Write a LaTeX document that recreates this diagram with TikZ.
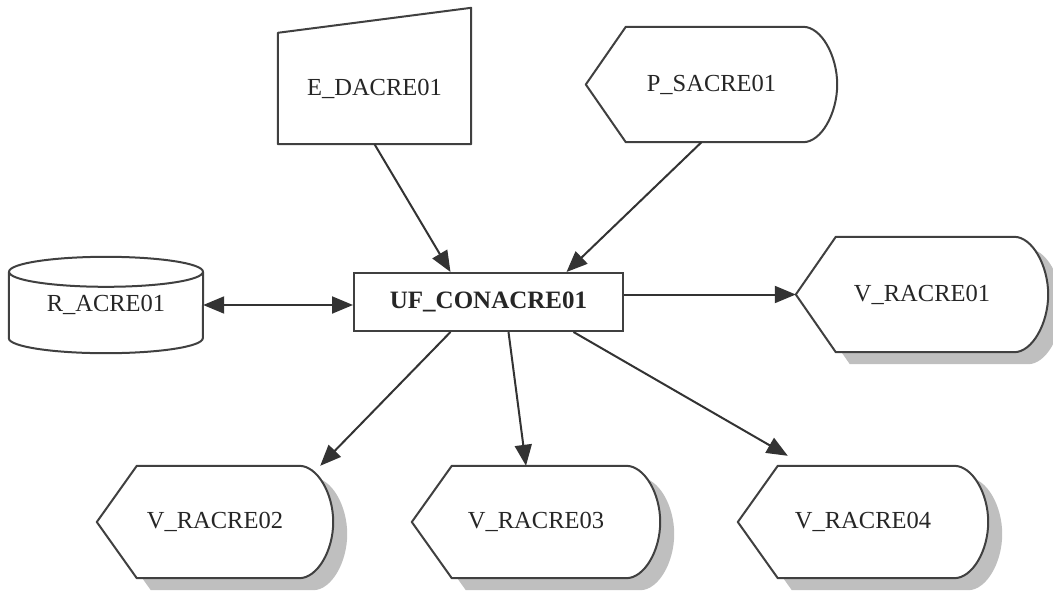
\documentclass[tikz,border=0pt]{standalone}
\usepackage{fontspec}
\setmainfont{Liberation Serif}
\usetikzlibrary{arrows.meta,backgrounds,shadows}
\tikzset{
  lbl/.style={inner sep=0pt, font=\fontsize{24.5}{28}\selectfont, text=black!85},
  conn/.style={line width=2pt, draw=black!80},
  tip/.style={-{Triangle[length=21pt,width=17pt]}},
  outl/.style={line width=2pt, draw=black!75, fill=white, line join=round},
  shad/.style={drop shadow={shadow xshift=14pt,shadow yshift=-12pt,fill=black!25,opacity=1}},
  disp/.style={insert path={(#1.west) -- ([xshift=40pt]#1.north west) -- ([xshift=-34pt]#1.north east)
    .. controls ([xshift=-16pt]#1.north east) and ([yshift=29pt]#1.east) .. (#1.east)
    .. controls ([yshift=-29pt]#1.east) and ([xshift=-16pt]#1.south east) .. ([xshift=-34pt]#1.south east)
    -- ([xshift=40pt]#1.south west) -- cycle}}
}
\begin{document}
\begin{tikzpicture}[x=1pt,y=-1pt]
\useasboundingbox (0,0) rectangle (1053,590);
\node[lbl, minimum width=193pt, minimum height=111pt] (edacre) at (374.5,88.5) {E\_DACRE01};
\node[lbl, minimum width=251pt, minimum height=115pt] (psacre) at (711.5,84.5) {P\_SACRE01};
\node[lbl, minimum width=194pt, minimum height=66pt] (racre) at (106,305) {R\_ACRE01};
\node[lbl, font=\fontsize{25}{28}\selectfont\bfseries, draw=black!75, line width=2pt, minimum width=269pt, minimum height=58pt] (uf) at (488.5,302) {UF\_CONACRE01};
\node[lbl, minimum width=252pt, minimum height=115pt] (vracre1) at (922,294.5) {V\_RACRE01};
\node[lbl, minimum width=236pt, minimum height=112pt] (vracre2) at (215,522) {V\_RACRE02};
\node[lbl, minimum width=248pt, minimum height=112pt] (vracre3) at (536,522) {V\_RACRE03};
\node[lbl, minimum width=250pt, minimum height=112pt] (vracre4) at (863,522) {V\_RACRE04};
\begin{scope}[on background layer]
\path[outl] (edacre.south west) -- (edacre.north west) -- ([yshift=25pt]edacre.north east) -- (edacre.south east) -- cycle;
\path[outl, disp=psacre];
\foreach \n in {vracre1,vracre2,vracre3,vracre4}
  \path[outl, shad, disp=\n];
\path[outl] (racre.north west) -- (racre.south west) arc[start angle=180, end angle=360, x radius=97pt, y radius=15pt] -- (racre.north east);
\path[outl] (racre.north) ellipse[x radius=97pt, y radius=15pt];
\end{scope}
\draw[conn, {Triangle[length=21pt,width=17pt]}-{Triangle[length=21pt,width=17pt]}] (racre.east) -- (racre.east -| uf.west);
\draw[conn, tip] (edacre.south) -- ([xshift=-38pt]uf.north);
\draw[conn, tip] ([xshift=-10pt]psacre.south) -- ([xshift=78pt]uf.north);
\draw[conn, tip] (uf.east |- vracre1.west) -- (vracre1.west);
\draw[conn, tip] ([xshift=-38pt]uf.south) -- ([xshift=-13pt]vracre2.north east);
\draw[conn, tip] ([xshift=20pt]uf.south) -- ([xshift=-10pt]vracre3.north);
\draw[conn, tip] ([xshift=85pt]uf.south) -- ([xshift=50pt,yshift=10pt]vracre4.north west);
\end{tikzpicture}
\end{document}
